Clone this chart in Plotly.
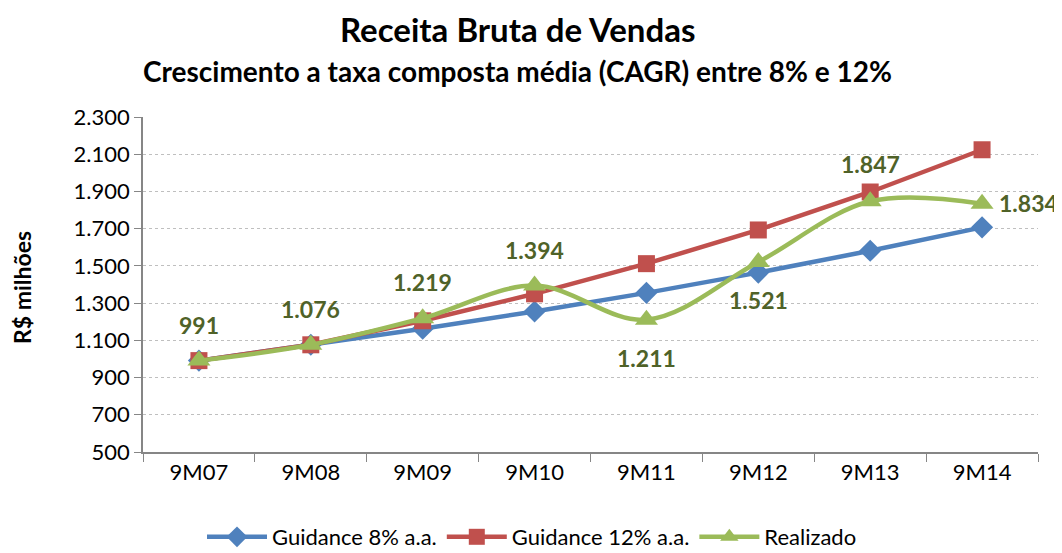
import plotly.graph_objects as go

categories = ["9M07", "9M08", "9M09", "9M10", "9M11", "9M12", "9M13", "9M14"]
guidance_8 = [991, 1076, 1162, 1255, 1355, 1464, 1581, 1707]
guidance_12 = [991, 1076, 1205, 1350, 1512, 1693, 1897, 2124]
realizado = [991, 1076, 1219, 1394, 1211, 1521, 1847, 1834]
realizado_labels = ["991", "1.076", "1.219", "1.394", "1.211", "1.521", "1.847", "1.834"]
label_dx = [0, 0, 0, 0, 0, 0, 0, 15]
label_dy = [36, 36, 36, 36, -38, -38, 37, 1]
label_anchor = ["center"] * 7 + ["left"]
y_ticks = [500, 700, 900, 1100, 1300, 1500, 1700, 1900, 2100, 2300]
y_tick_labels = ["500", "700", "900", "1.100", "1.300", "1.500", "1.700", "1.900", "2.100", "2.300"]

FONT = "Lato, Carlito, Calibri, sans-serif"
OFF = 8  # page body margin
W, H = 1054, 545
L, T = 143 - OFF, 117 - OFF
R = W - (1038 - OFF)
B = H - (452 - OFF)
PW, PH = W - L - R, H - T - B

def px_x(px):
    return (px - OFF - L) / PW

def px_y(py):
    return (H - B - (py - OFF)) / PH

fig = go.Figure()
fig.add_trace(go.Scatter(
    x=categories, y=guidance_8, name="Guidance 8% a.a.", mode="lines+markers",
    line=dict(color="#4F81BD", width=4.5),
    marker=dict(symbol="diamond", size=17, color="#4F81BD"),
))
fig.add_trace(go.Scatter(
    x=categories, y=guidance_12, name="Guidance 12% a.a.", mode="lines+markers",
    line=dict(color="#C0504D", width=4.5),
    marker=dict(symbol="square", size=17, color="#C0504D"),
))
fig.add_trace(go.Scatter(
    x=categories, y=realizado, name="Realizado", mode="lines+markers",
    line=dict(color="#9BBB59", width=4.5, shape="spline", smoothing=1.0),
    marker=dict(symbol="triangle-up", size=20, color="#9BBB59"),
))

annotations = [
    dict(text="<b>Receita Bruta de Vendas</b>", xref="paper", yref="paper",
         x=px_x(517), y=px_y(29), xanchor="center", yanchor="middle", showarrow=False,
         font=dict(family=FONT, size=33, color="black")),
    dict(text="<b>Crescimento a taxa composta média (CAGR) entre 8% e 12%</b>", xref="paper", yref="paper",
         x=px_x(517), y=px_y(71), xanchor="center", yanchor="middle", showarrow=False,
         font=dict(family=FONT, size=28, color="black")),
    dict(text="<b>R$ milhões</b>", xref="paper", yref="paper",
         x=px_x(22), y=px_y(288), xanchor="center", yanchor="middle", showarrow=False,
         textangle=-90, font=dict(family=FONT, size=23, color="black")),
]
for cat, val, lab, dx, dy, anc in zip(categories, realizado, realizado_labels, label_dx, label_dy, label_anchor):
    annotations.append(dict(
        text=f"<b>{lab}</b>", x=cat, y=val, xref="x", yref="y",
        xshift=dx, yshift=dy, showarrow=False, xanchor=anc, yanchor="middle",
        font=dict(family=FONT, size=23, color="#4F6228"),
    ))

fig.update_layout(
    width=W, height=H,
    margin=dict(l=L, r=R, t=T, b=B, autoexpand=False),
    paper_bgcolor="white", plot_bgcolor="white",
    font=dict(family=FONT, size=22, color="black"),
    showlegend=True,
    legend=dict(orientation="h", x=px_x(532), xanchor="center", y=px_y(537), yanchor="middle",
                font=dict(family=FONT, size=22, color="black"),
                traceorder="normal", itemwidth=60),
    xaxis=dict(
        type="category", range=[-0.5, 7.5], automargin=False,
        showline=True, linecolor="#868686", linewidth=1.5,
        ticks="outside", tickson="boundaries", ticklen=8, tickcolor="#868686",
        showgrid=False, tickfont=dict(family=FONT, size=22, color="black"),
    ),
    yaxis=dict(
        range=[500, 2300], tickvals=y_ticks, ticktext=y_tick_labels, automargin=False,
        showline=True, linecolor="#868686", linewidth=1.5,
        ticks="outside", ticklen=7, tickcolor="#868686",
        showgrid=True, gridcolor="#BFBFBF", griddash="dot", gridwidth=1.2,
        zeroline=False,
        tickfont=dict(family=FONT, size=22, color="black"),
    ),
    annotations=annotations,
)

fig.write_html("out.html")
